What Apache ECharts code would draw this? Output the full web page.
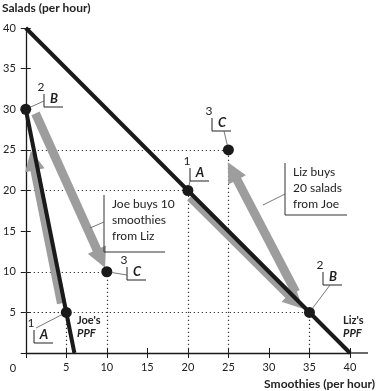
<!DOCTYPE html>
<html>
<head>
<meta charset="utf-8">
<script src="https://cdn.jsdelivr.net/npm/echarts@6/dist/echarts.min.js"></script>
<style>
  html, body { margin: 0; padding: 0; background: #fff; }
  #chart { width: 376px; height: 391px; }
</style>
</head>
<body>
<div id="chart"></div>
<script>
// data
const joePPF = [[0, 30], [6, 0]];
const lizPPF = [[0, 40], [40, 0]];
const stepNames = ['A', 'B', 'C'];
const stepNums = ['1', '2', '3'];
const joePoints = [[5, 5], [0, 30], [10, 10]];   // A, B, C
const lizPoints = [[20, 20], [35, 5], [25, 25]]; // A, B, C
const guidePoints = [[5, 5], [10, 10], [20, 20], [25, 25], [35, 5]];
// gray arrows: [start, end]
const joeArrows = [[[4.4, 6.1], [0.88, 23.7]], [[1.2, 29.5], [9.28, 11.6]]];
const lizArrows = [[[20.3, 19.2], [33.3, 6.3]], [[33.3, 7.5], [25.5, 22.4]]];
const joeNote = ['Joe buys 10', 'smoothies', 'from Liz'];
const lizNote = ['Liz buys', '20 salads', 'from Joe'];

const FONT = 'Lato, "Open Sans", sans-serif';
const INK = '#1a1a1a';
const GRAY = '#9d9d9d';

const chart = echarts.init(document.getElementById('chart'));

// 轴的公共配置
const axisBase = {
  type: 'value', min: 0, max: 40, interval: 5,
  splitLine: { show: false },
  axisLine: { show: true, lineStyle: { color: INK, width: 1.3 } },
  axisTick: { show: true, length: 5, lineStyle: { color: INK, width: 1 } },
  axisLabel: {
    fontFamily: FONT, fontSize: 11, color: '#222',
    formatter: v => (v === 0 ? '' : String(v))
  }
};
const innerTicks = {
  type: 'value', min: 0, max: 40, interval: 5,
  splitLine: { show: false },
  axisLine: { show: false },
  axisLabel: { show: false },
  axisTick: { show: true, inside: true, length: 5, lineStyle: { color: INK, width: 1 } }
};

const guideSegs = [];
guidePoints.forEach(([x, y]) => {
  guideSegs.push({ coords: [[0, y], [x, y]] });
  guideSegs.push({ coords: [[x, 0], [x, y]] });
});

const arrowSeries = arrows => ({
  type: 'lines',
  coordinateSystem: 'cartesian2d',
  z: 3,
  symbol: ['none', 'triangle'],
  symbolSize: 20,
  lineStyle: { color: GRAY, width: 9, opacity: 1, curveness: 0 },
  itemStyle: { color: GRAY },
  data: arrows.map(a => ({ coords: a }))
});

chart.setOption({
  animation: false,
  grid: { left: 23, right: 26, top: 28, bottom: 38 },
  xAxis: [
    Object.assign({}, axisBase, { position: 'bottom', axisLabel: Object.assign({}, axisBase.axisLabel, { margin: 9 }) }),
    Object.assign({}, innerTicks, { position: 'bottom' })
  ],
  yAxis: [
    Object.assign({}, axisBase, { position: 'left', axisLabel: Object.assign({}, axisBase.axisLabel, { margin: 10 }) }),
    Object.assign({}, innerTicks, { position: 'left' })
  ],
  series: [
    {
      type: 'lines', coordinateSystem: 'cartesian2d', z: 2,
      lineStyle: { color: '#333', width: 1.2, type: [1.2, 2.8], opacity: 1 },
      data: guideSegs
    },
    arrowSeries(joeArrows),
    arrowSeries(lizArrows),
    { type: 'line', data: joePPF, symbol: 'none', z: 4, lineStyle: { color: INK, width: 4 } },
    { type: 'line', data: lizPPF, symbol: 'none', z: 4, lineStyle: { color: INK, width: 4 } },
    {
      type: 'scatter', z: 5, symbolSize: 11,
      itemStyle: { color: INK, opacity: 1 },
      data: joePoints.concat(lizPoints)
    }
  ]
});

// 注释（括号、编号、文字框）
function txt(str, x, y, opt) {
  return {
    type: 'text', x: x, y: y, silent: true, z: 10,
    style: Object.assign({ text: str, fill: '#222', fontFamily: FONT, fontSize: 12, align: 'left', verticalAlign: 'middle' }, opt)
  };
}
function seg(points, color, w) {
  return { type: 'polyline', silent: true, z: 10, shape: { points: points }, style: { stroke: color || '#333', lineWidth: w || 1, fill: null } };
}

// bracket corner + leader anchor, Joe A,B,C then Liz A,B,C
const tagLayout = [
  { corner: [34, 343], anchor: [36, 328] },
  { corner: [44, 107], anchor: [44, 101] },
  { corner: [127, 280], anchor: [127, 275] },
  { corner: [190, 181], anchor: [190, 181] },
  { corner: [323, 285], anchor: [330, 285] },
  { corner: [212, 131], anchor: [224, 131] }
];

const g = [];
joePoints.concat(lizPoints).forEach((p, i) => {
  const px = chart.convertToPixel({ gridIndex: 0 }, p);
  const { corner: c, anchor: a } = tagLayout[i];
  const k = i % 3;
  g.push(seg([[c[0], c[1] - 13], c, [c[0] + 19, c[1]]], '#222', 1));
  g.push(txt(stepNums[k], c[0] - 3, c[1] - 20, { align: 'center' }));
  g.push(txt(stepNames[k], c[0] + 10, c[1] - 8, { align: 'center', fontSize: 13, fontWeight: 'bold', fontStyle: 'italic' }));
  const dx = px[0] - a[0], dy = px[1] - a[1];
  const len = Math.sqrt(dx * dx + dy * dy) || 1;
  g.push(seg([a, [px[0] - dx / len * 5, px[1] - dy / len * 5]], '#555', 0.8));
});

// text boxes
g.push(seg([[104, 195], [104, 252], [165, 252]], '#333', 1));
joeNote.forEach((s, i) => g.push(txt(s, 112, 204 + i * 16)));
g.push(seg([[104, 222], [90, 228]], '#555', 0.8));

g.push(seg([[285, 163], [285, 215], [347, 215]], '#333', 1));
lizNote.forEach((s, i) => g.push(txt(s, 293, 172 + i * 16)));
g.push(seg([[285, 194], [263, 205]], '#555', 0.8));

// PPF names
g.push(txt("Joe's", 77, 320, { fontSize: 11, fontWeight: 'bold' }));
g.push(txt('PPF', 77, 333, { fontSize: 11, fontWeight: 'bold', fontStyle: 'italic' }));
g.push(txt("Liz's", 343, 320, { fontSize: 11, fontWeight: 'bold' }));
g.push(txt('PPF', 343, 333, { fontSize: 11, fontWeight: 'bold', fontStyle: 'italic' }));

// axis titles, origin label, axis extension
g.push(txt('Salads (per hour)', 2, 8, { fontSize: 12, fontWeight: 'bold' }));
g.push(txt('Smoothies (per hour)', 375, 384, { fontSize: 12, fontWeight: 'bold', align: 'right' }));
g.push(txt('0', 13, 368, { fontSize: 11, align: 'center' }));
const axEnd = chart.convertToPixel({ gridIndex: 0 }, [40, 0]);
g.push(seg([axEnd, [axEnd[0] + 18, axEnd[1]]], INK, 1.3));

chart.setOption({ graphic: g });
</script>
</body>
</html>
